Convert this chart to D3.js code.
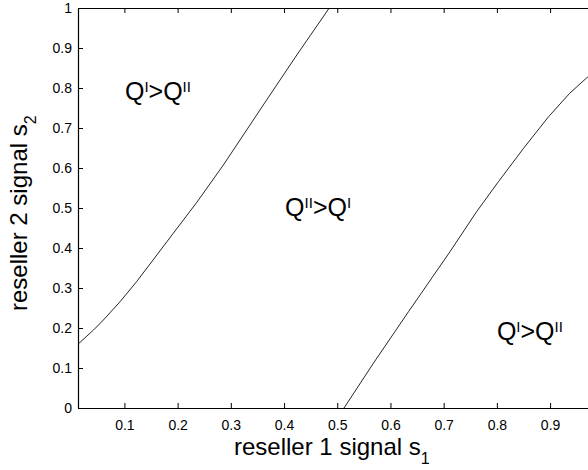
<!DOCTYPE html>
<html><head><meta charset="utf-8">
<script src="https://cdn.jsdelivr.net/npm/d3@7"></script>
<style>
html,body{margin:0;padding:0;background:#fff;}
svg{display:block;font-family:"Liberation Sans",Arial,Helvetica,sans-serif;}
</style></head>
<body>
<svg id="chart" width="588" height="470"></svg>
<script>
// Boundary curve 1 (left)
const curve1S1 = [0.0148, 0.042, 0.0605, 0.092, 0.123, 0.161, 0.192, 0.236, 0.286, 0.361, 0.424, 0.485];
const curve1S2 = [0.162, 0.195, 0.22, 0.266, 0.316, 0.3825, 0.437, 0.514, 0.6075, 0.7575, 0.8825, 1.0];
// Boundary curve 2 (right)
const curve2S1 = [0.5127, 0.568, 0.634, 0.712, 0.762, 0.803, 0.850, 0.897, 0.937, 0.971];
const curve2S2 = [0, 0.112, 0.241, 0.391, 0.491, 0.566, 0.649, 0.728, 0.787, 0.828];
// Axis ticks
const xTicks = [0.1, 0.2, 0.3, 0.4, 0.5, 0.6, 0.7, 0.8, 0.9, 1.0];
const yTicks = [0, 0.1, 0.2, 0.3, 0.4, 0.5, 0.6, 0.7, 0.8, 0.9, 1.0];
const xDomain = [0.0128, 1];
const yDomain = [0, 1];
// Region labels
const regionS1 = [0.101, 0.402, 0.80];
const regionS2 = [0.77, 0.48, 0.17];
const regionSupA = ["I", "II", "I"];
const regionSupB = ["II", "I", "II"];

(function () {
const svg = d3.select("#chart");
const mL = 78, mR = 603.3, mT = 8, mB = 408;
const x = d3.scaleLinear().domain(xDomain).range([mL, mR]);
const y = d3.scaleLinear().domain(yDomain).range([mB, mT]);

const fmt = d => d === 0 ? "0" : d === 1 ? "1" : d3.format(".1f")(d);

const gx = svg.append("g").attr("transform", `translate(0,${mB})`)
  .call(d3.axisBottom(x).tickValues(xTicks).tickSizeInner(-5).tickSizeOuter(0).tickPadding(12).tickFormat(fmt));
const gt = svg.append("g").attr("transform", `translate(0,${mT})`)
  .call(d3.axisTop(x).tickValues(xTicks).tickSizeInner(-5).tickSizeOuter(0).tickFormat(""));
const gy = svg.append("g").attr("transform", `translate(${mL},0)`)
  .call(d3.axisLeft(y).tickValues(yTicks).tickSizeInner(-5).tickSizeOuter(0).tickPadding(6).tickFormat(fmt));
const gr = svg.append("g").attr("transform", `translate(${mR},0)`)
  .call(d3.axisRight(y).tickValues(yTicks).tickSizeInner(-5).tickSizeOuter(0).tickFormat(""));

[gx, gt, gy, gr].forEach(g => {
  g.selectAll(".domain").attr("stroke", "#000").attr("stroke-width", 1.2);
  g.selectAll(".tick line").attr("stroke", "#000").attr("stroke-width", 1);
  g.selectAll("text").attr("fill", "#000").style("font-size", "14px")
    .style("font-family", "'Liberation Sans',Arial,sans-serif");
});
gx.selectAll(".tick").filter(d => d >= 1).remove();

const line = d3.line().x(d => x(d[0])).y(d => y(d[1]));
const c1 = curve1S1.map((v, i) => [v, curve1S2[i]]);
const c2 = curve2S1.map((v, i) => [v, curve2S2[i]]);
[c1, c2].forEach(c => {
  svg.append("path").datum(c).attr("d", line)
    .attr("fill", "none").attr("stroke", "#000").attr("stroke-width", 0.85);
});

regionS1.forEach((s1, i) => {
  const t = svg.append("text").attr("x", x(s1)).attr("y", y(regionS2[i]))
    .style("font-size", "25px").attr("fill", "#000");
  t.append("tspan").text("Q");
  t.append("tspan").attr("dy", -8).style("font-size", "15px").text(regionSupA[i]);
  t.append("tspan").attr("dy", 8).text(">Q");
  t.append("tspan").attr("dy", -8).style("font-size", "15px").text(regionSupB[i]);
});

const xl = svg.append("text").attr("x", 234).attr("y", 455)
  .style("font-size", "24px").attr("fill", "#000");
xl.append("tspan").text("reseller 1 signal s");
xl.append("tspan").attr("dy", 9).style("font-size", "16px").text("1");

const yl = svg.append("text").attr("transform", "translate(27,311) rotate(-90)")
  .style("font-size", "24px").attr("fill", "#000");
yl.append("tspan").text("reseller 2 signal s");
yl.append("tspan").attr("dy", 9).style("font-size", "16px").text("2");
})();
</script>
</body></html>
